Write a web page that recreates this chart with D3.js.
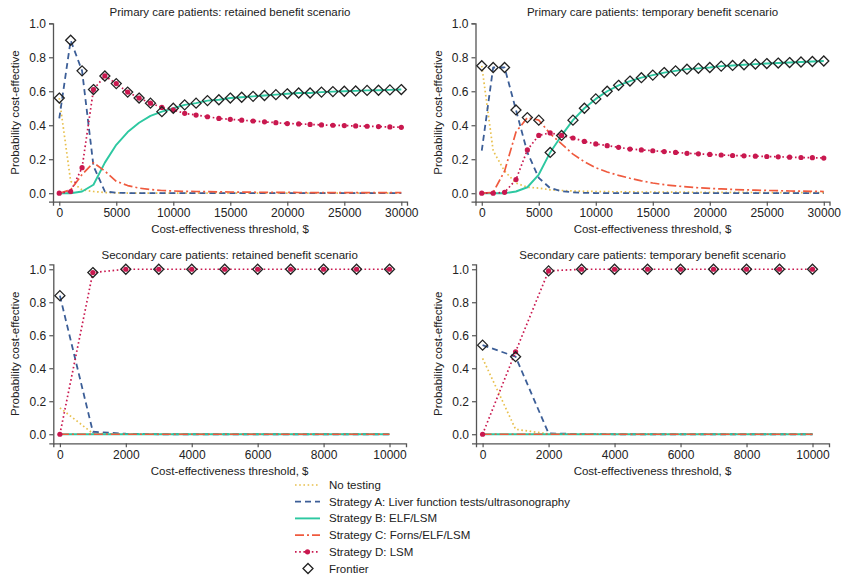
<!DOCTYPE html>
<html><head><meta charset="utf-8">
<script src="https://cdn.jsdelivr.net/npm/d3@7"></script>
<style>
body{margin:0;background:#fff}
svg{display:block}
text{font-family:"Liberation Sans",Arial,Helvetica,sans-serif;fill:#222}
</style>
</head><body>
<svg id="c" width="842" height="578"></svg>
<script>
// ---------------- DATA ----------------
const thresholdsPrimary = [0,1000,2000,3000,4000,5000,6000,7000,8000,9000,10000,11000,12000,13000,14000,15000,16000,17000,18000,19000,20000,21000,22000,23000,24000,25000,26000,27000,28000,29000,30000];
const thresholdsSecondary = [0,1000,2000,3000,4000,5000,6000,7000,8000,9000,10000];

const panelTitles = [
  "Primary care patients: retained benefit scenario",
  "Primary care patients: temporary benefit scenario",
  "Secondary care patients: retained benefit scenario",
  "Secondary care patients: temporary benefit scenario"
];
const strategyKeys = ["N","A","B","C","D"];
const legendLabels = ["No testing","Strategy A: Liver function tests/ultrasonography","Strategy B: ELF/LSM","Strategy C: Forns/ELF/LSM","Strategy D: LSM","Frontier"];
const xTicksPrimary = [0,5000,10000,15000,20000,25000,30000];
const xTicksSecondary = [0,2000,4000,6000,8000,10000];
const yTicks = [0,0.2,0.4,0.6,0.8,1.0];
const xAxisTitle = "Cost-effectiveness threshold, $";
const yAxisTitle = "Probability cost-effective";

// Panel 1: primary care, retained benefit
const noTest1 = [0.56,0.07,0.02,0.01,0.004,0.002,0.001,0,0,0,0,0,0,0,0,0,0,0,0,0,0,0,0,0,0,0,0,0,0,0,0];
const stratA1 = [0.44,0.90,0.72,0.16,0.01,0.003,0.001,0,0,0,0,0,0,0,0,0,0,0,0,0,0,0,0,0,0,0,0,0,0,0,0];
const stratB1 = [0,0,0.01,0.05,0.18,0.285,0.36,0.415,0.455,0.48,0.50,0.52,0.53,0.545,0.55,0.56,0.565,0.57,0.575,0.58,0.585,0.59,0.59,0.595,0.598,0.60,0.602,0.605,0.606,0.608,0.61];
const stratC1 = [0,0.02,0.11,0.18,0.13,0.07,0.045,0.03,0.022,0.016,0.013,0.011,0.01,0.009,0.008,0.007,0.006,0.006,0.005,0.005,0.005,0.004,0.004,0.004,0.004,0.003,0.003,0.003,0.003,0.003,0.003];
const stratD1 = [0,0.01,0.15,0.61,0.69,0.645,0.595,0.56,0.53,0.505,0.49,0.47,0.46,0.45,0.44,0.435,0.43,0.425,0.42,0.415,0.41,0.408,0.405,0.402,0.40,0.398,0.396,0.394,0.392,0.39,0.388];
const frontier1 = ["N","A","A","D","D","D","D","D","D","B","B","B","B","B","B","B","B","B","B","B","B","B","B","B","B","B","B","B","B","B","B"];

// Panel 2: primary care, temporary benefit
const noTest2 = [0.75,0.25,0.13,0.06,0.035,0.03,0.02,0.016,0.013,0.011,0.01,0.009,0.008,0.008,0.007,0.007,0.006,0.006,0.006,0.005,0.005,0.005,0.005,0.005,0.004,0.004,0.004,0.004,0.004,0.004,0.004];
const stratA2 = [0.25,0.74,0.74,0.49,0.24,0.09,0.03,0.012,0.005,0.002,0.001,0,0,0,0,0,0,0,0,0,0,0,0,0,0,0,0,0,0,0,0];
const stratB2 = [0,0,0,0.01,0.035,0.11,0.24,0.34,0.43,0.50,0.555,0.60,0.635,0.66,0.68,0.695,0.71,0.72,0.73,0.735,0.74,0.748,0.752,0.756,0.76,0.763,0.766,0.769,0.772,0.775,0.778];
const stratC2 = [0,0.005,0.13,0.36,0.445,0.43,0.35,0.29,0.23,0.185,0.15,0.125,0.105,0.088,0.073,0.06,0.05,0.043,0.037,0.032,0.028,0.025,0.022,0.02,0.018,0.016,0.015,0.013,0.012,0.011,0.01];
const stratD2 = [0,0,0.005,0.08,0.255,0.34,0.355,0.34,0.325,0.305,0.29,0.28,0.27,0.26,0.255,0.25,0.245,0.24,0.235,0.232,0.228,0.225,0.222,0.22,0.218,0.216,0.214,0.212,0.21,0.209,0.207];
const frontier2 = ["N","A","A","A","C","C","B","B","B","B","B","B","B","B","B","B","B","B","B","B","B","B","B","B","B","B","B","B","B","B","B"];

// Panel 3: secondary care, retained benefit
const noTest3 = [0.16,0.005,0,0,0,0,0,0,0,0,0];
const stratA3 = [0.84,0.015,0.003,0,0,0,0,0,0,0,0];
const stratB3 = [0,0,0,0,0,0,0,0,0,0,0];
const stratC3 = [0,0,0,0,0,0,0,0,0,0,0];
const stratD3 = [0,0.98,1,1,1,1,1,1,1,1,1];
const frontier3 = ["A","D","D","D","D","D","D","D","D","D","D"];

// Panel 4: secondary care, temporary benefit
const noTest4 = [0.46,0.03,0.002,0,0,0,0,0,0,0,0];
const stratA4 = [0.54,0.47,0.005,0.001,0,0,0,0,0,0,0];
const stratB4 = [0,0,0,0,0,0,0,0,0,0,0];
const stratC4 = [0,0,0,0,0,0,0,0,0,0,0];
const stratD4 = [0,0.50,0.99,1,1,1,1,1,1,1,1];
const frontier4 = ["A","A","D","D","D","D","D","D","D","D","D"];

// ---------------- STYLE / LAYOUT ----------------
const styles = {
  N:{color:"#e8c04e", dash:"1.6,2.6", width:1.7},
  A:{color:"#3c5e97", dash:"6,4", width:1.8},
  B:{color:"#2dc8a1", dash:null, width:1.9},
  C:{color:"#ef5a3e", dash:"9,3,2,3", width:1.7},
  D:{color:"#c9184f", dash:"1.6,2.6", width:1.7}
};
const axisColor = "#555";

const panels = [
  {title:panelTitles[0], x:thresholdsPrimary, s:{N:noTest1,A:stratA1,B:stratB1,C:stratC1,D:stratD1}, f:frontier1,
   xr:[53,407], yr:[201.7,23.3], xd:[-550,30500], yd:[-0.05,1], xt:xTicksPrimary, titleY:16},
  {title:panelTitles[1], x:thresholdsPrimary, s:{N:noTest2,A:stratA2,B:stratB2,C:stratC2,D:stratD2}, f:frontier2,
   xr:[475.5,829.5], yr:[201.7,23.3], xd:[-550,30500], yd:[-0.05,1], xt:xTicksPrimary, titleY:16},
  {title:panelTitles[2], x:thresholdsSecondary, s:{N:noTest3,A:stratA3,B:stratB3,C:stratC3,D:stratD3}, f:frontier3,
   xr:[53.3,406], yr:[443.3,264.3], xd:[-200,10500], yd:[-0.055,1.03], xt:xTicksSecondary, titleY:258.5},
  {title:panelTitles[3], x:thresholdsSecondary, s:{N:noTest4,A:stratA4,B:stratB4,C:stratC4,D:stratD4}, f:frontier4,
   xr:[476,829], yr:[443.3,264.3], xd:[-200,10500], yd:[-0.055,1.03], xt:xTicksSecondary, titleY:258.5}
];

const svg = d3.select("#c");
const diamond = r => `M0,${-r}L${r},0L0,${r}L${-r},0Z`;

panels.forEach(p => {
  const x = d3.scaleLinear().domain(p.xd).range(p.xr);
  const y = d3.scaleLinear().domain(p.yd).range(p.yr);
  const g = svg.append("g");

  // title
  g.append("text").attr("x",(p.xr[0]+p.xr[1])/2).attr("y",p.titleY)
    .attr("text-anchor","middle").style("font-size","11.5px").text(p.title);

  // axes
  const xa = g.append("g").attr("transform",`translate(0,${p.yr[0]})`)
    .call(d3.axisBottom(x).tickValues(p.xt).tickFormat(d3.format("d")).tickSizeOuter(0).tickSize(4).tickPadding(3));
  const ya = g.append("g").attr("transform",`translate(${p.xr[0]},0)`)
    .call(d3.axisLeft(y).tickValues(yTicks).tickFormat(d3.format(".1f")).tickSizeOuter(0).tickSize(4).tickPadding(3));
  [xa,ya].forEach(a=>{
    a.select(".domain").attr("stroke",axisColor).attr("stroke-width",1.3);
    a.selectAll(".tick line").attr("stroke",axisColor).attr("stroke-width",1.2);
    a.selectAll(".tick text").style("font-size","12px").style("font-family",'"Liberation Sans",Arial,sans-serif').attr("fill","#222");
  });

  g.append("text").attr("x",(p.xr[0]+p.xr[1])/2).attr("y",p.yr[0]+31.5)
    .attr("text-anchor","middle").style("font-size","11.5px").text(xAxisTitle);
  const yc = (p.yr[0]+p.yr[1])/2, xc = p.xr[0]-34;
  g.append("text").attr("transform",`translate(${xc},${yc}) rotate(-90)`)
    .attr("text-anchor","middle").style("font-size","11.5px").text(yAxisTitle);

  // lines
  strategyKeys.forEach(k => {
    const vals = p.s[k];
    const line = d3.line().x((d,i)=>x(p.x[i])).y(d=>y(d));
    const st = styles[k];
    g.append("path").datum(vals).attr("d",line).attr("fill","none")
      .attr("stroke",st.color).attr("stroke-width",st.width)
      .attr("stroke-dasharray",st.dash).attr("stroke-linejoin","round");
  });
  // D markers
  g.selectAll("circle.d").data(p.s.D).enter().append("circle")
    .attr("cx",(d,i)=>x(p.x[i])).attr("cy",d=>y(d)).attr("r",2.6).attr("fill",styles.D.color);
  // frontier diamonds
  g.selectAll("path.fr").data(p.f).enter().append("path")
    .attr("d",diamond(5))
    .attr("transform",(k,i)=>`translate(${x(p.x[i])},${y(p.s[k][i])})`)
    .attr("fill","none").attr("stroke","#222").attr("stroke-width",1.3);
});

// legend
const lg = svg.append("g");
const rowY = i => 485 + i*16.7;
legendLabels.forEach((lab,i)=>{
  const yy = rowY(i);
  if (i < 5) {
    const st = styles[strategyKeys[i]];
    lg.append("line").attr("x1",295).attr("x2",320).attr("y1",yy).attr("y2",yy)
      .attr("stroke",st.color).attr("stroke-width",st.width).attr("stroke-dasharray",st.dash);
    if (i===4) lg.append("circle").attr("cx",307.5).attr("cy",yy).attr("r",2.6).attr("fill",st.color);
  } else {
    lg.append("path").attr("d",diamond(5)).attr("transform",`translate(308,${yy})`)
      .attr("fill","none").attr("stroke","#222").attr("stroke-width",1.3);
  }
  lg.append("text").attr("x",329).attr("y",yy+4).style("font-size","11.5px").text(lab);
});
</script>
</body></html>
